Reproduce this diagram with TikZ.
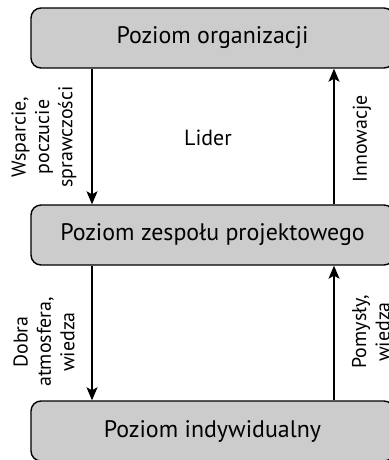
\documentclass[tikz,border=0pt]{standalone}
\usepackage{fontspec}
\setmainfont{PT Sans}
\usetikzlibrary{arrows.meta}
\begin{document}
\begin{tikzpicture}[x=1bp,y=-1bp,
  box/.style={draw=black, fill=black!20, rounded corners=10bp, line width=1.4bp,
    minimum width=363bp, minimum height=60bp, inner sep=0pt,
    font=\fontsize{24}{28}\selectfont},
  lbl/.style={font=\fontsize{20}{23.5}\selectfont, align=center, inner sep=0pt},
  arr/.style={line width=1.3bp, -{Stealth[length=13bp, width=11bp, inset=3bp]}}]
\useasboundingbox (0,0) rectangle (388,460);
\node[box] (org) at (212.5,38) {Poziom organizacji};
\node[box] (team) at (212.5,235) {Poziom zespołu projektowego};
\node[box] (ind) at (212.5,431) {Poziom indywidualny};
\coordinate (lx) at (92,0);
\coordinate (rx) at (334,0);
\draw[arr] (lx |- org.south) -- (lx |- team.north);
\draw[arr] (rx |- team.north) -- (rx |- org.south);
\draw[arr] (lx |- team.south) -- (lx |- ind.north);
\draw[arr] (rx |- ind.north) -- (rx |- team.south);
\node[lbl, font=\fontsize{22}{26}\selectfont] (lider) at (208,138) {Lider};
\node[lbl, rotate=90] (l1) at (44,137) {Wsparcie,\\poczucie\\sprawczości};
\node[lbl, rotate=90] (l2) at (362,139) {Innowacje};
\node[lbl, rotate=90] (l3) at (44,342) {Dobra\\atmosfera,\\wiedza};
\node[lbl, rotate=90] (l4) at (371,332) {Pomysły,\\wiedza};
\end{tikzpicture}
\end{document}
